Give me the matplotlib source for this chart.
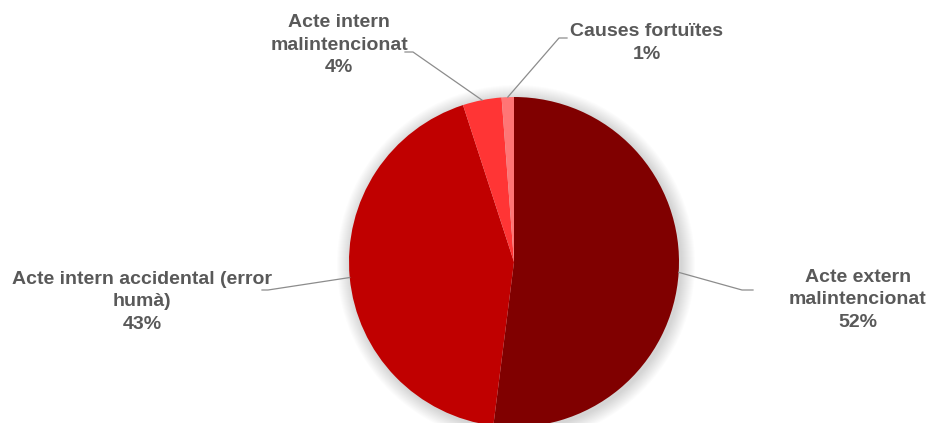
import matplotlib.pyplot as plt
import numpy as np
from matplotlib.patches import Circle

plt.rcParams['font.family'] = ['Liberation Sans', 'DejaVu Sans']

# data, in clockwise order from the top
labels = ['Acte extern\nmalintencionat', 'Acte intern accidental (error\nhumà)',
          'Acte intern\nmalintencionat', 'Causes fortuïtes']
values = [52.0, 43.0, 3.8, 1.2]
colors = ['#800000', '#C00000', '#FF3535', '#FF7575']

# label text centres and leader elbow points (pixel layout, y up)
label_pos = [(858, 123), (142, 121), (339, 378), (647, 380)]
elbows = [((742, 133), (753, 133)), ((268, 133), (262, 133)),
          ((413, 371), (405, 371)), ((559, 385), (567, 385))]

fig = plt.figure(figsize=(9.31, 4.23), dpi=100)
ax = fig.add_axes([0, 0, 1, 1])

cx, cy, r = 514, 161, 165

# soft shadow around the pie
for k in range(14):
    ax.add_patch(Circle((cx + 2, cy - 2), r + 14 - k, color='black',
                        alpha=0.012, lw=0, zorder=0))

wedges, _ = ax.pie(values, colors=colors, startangle=90, counterclock=False,
                   center=(cx, cy), radius=r, frame=True,
                   wedgeprops=dict(linewidth=0, zorder=1))
ax.set_xlim(0, 931)
ax.set_ylim(0, 423)
ax.set_aspect('equal')
ax.axis('off')

total = sum(values)
for w, lab, v, (tx, ty), (e1, e2) in zip(wedges, labels, values, label_pos, elbows):
    ang = np.deg2rad((w.theta1 + w.theta2) / 2)
    sx, sy = cx + r * np.cos(ang), cy + r * np.sin(ang)
    ax.plot([sx, e1[0], e2[0]], [sy, e1[1], e2[1]], color='#8C8C8C', lw=0.9, zorder=2)
    ax.text(tx, ty, f'{lab}\n{v / total * 100:.0f}%', ha='center', va='center',
            fontsize=14, fontweight='bold', color='#595959', linespacing=1.4)

fig.savefig('out.png', dpi=100)
